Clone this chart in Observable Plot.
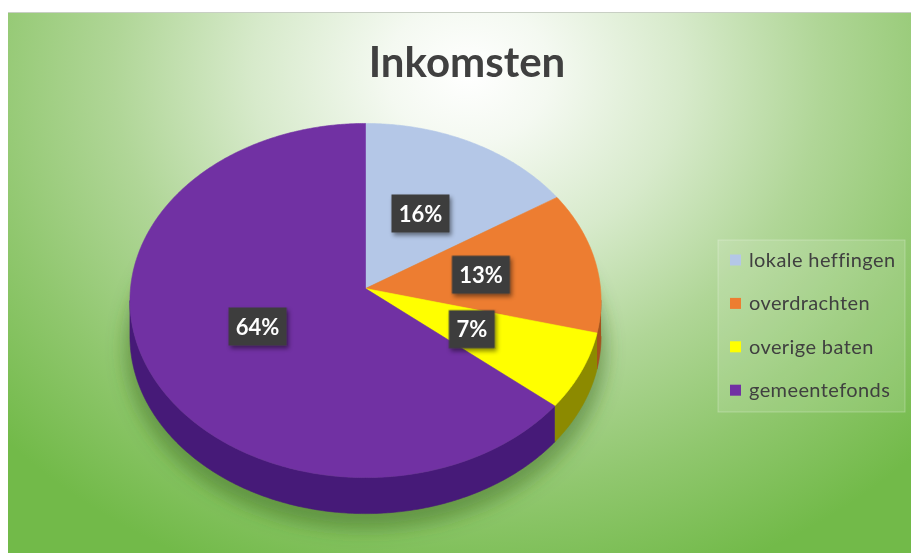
<!DOCTYPE html>
<html>
<head>
<meta charset="utf-8">
<script src="https://cdn.jsdelivr.net/npm/d3@7"></script>
<script src="https://cdn.jsdelivr.net/npm/@observablehq/plot@0.6"></script>
<style>
  html, body { margin: 0; padding: 0; background: #ffffff; }
  #wrap { position: relative; width: 911px; height: 553px; overflow: hidden; background: #ffffff; }
  #bg { position: absolute; left: 8px; top: 12px; width: 903px; height: 541px;
        border-top: 1px solid #c8cfc4;
        background: radial-gradient(ellipse 70% 100% at 51% 11%, #ffffff 0%, #f4f9f1 13%, #d7eacb 34%, #b0d697 56%, #90c76e 78%, #72ba49 100%); }
  #chart { position: absolute; left: 0; top: 0; }
</style>
</head>
<body>
<div id="wrap"><div id="bg"></div><div id="chart"></div></div>
<script>
// ---- data ----
const title = "Inkomsten";
const categories = ["lokale heffingen", "overdrachten", "overige baten", "gemeentefonds"];
const values = [16, 13, 7, 64];
const labels = ["16%", "13%", "7%", "64%"];
const topColors = ["#b4c7e7", "#ed7d31", "#ffff00", "#7131a3"];
const sideColors = ["#7d8db0", "#a4511c", "#8c8a00", "#461a78"];

// ---- layout ----
const W = 911, H = 553;
const CX = 365, CY = 288, R = 235;   // apex in pixels, radius in pixels
const T = 0.75, K = 0.068;           // tilt and perspective
const D = 36 / R;                    // thickness in radius units

function P(theta, f, h = 0) {
  const u = f * Math.sin(theta), v = -f * Math.cos(theta);
  const s = 1 / (1 - K * v);
  return {x: u * s, y: T * v * s + h};
}
function arc(a1, a2, f, h) {
  const n = Math.max(2, Math.ceil((a2 - a1) / (Math.PI / 360)));
  return d3.range(n + 1).map(i => P(a1 + (a2 - a1) * i / n, f, h));
}

const arcs = d3.pie().sort(null).value(d => d)(values);
const theta0 = Math.acos(-K), theta1 = 2 * Math.PI - theta0;

const tops = arcs.map((a, i) => [{x: 0, y: 0}, ...arc(a.startAngle, a.endAngle, 1, 0), {x: 0, y: 0}]);
const sides = arcs.map((a, i) => {
  const lo = Math.max(a.startAngle, theta0), hi = Math.min(a.endAngle, theta1);
  if (lo >= hi) return null;
  return [...arc(lo, hi, 1, 0), ...arc(lo, hi, 1, D).reverse()];
});
const shadow = arc(0, 2 * Math.PI, 1.02, D + 0.05);
const labelPts = arcs.map((a, i) => ({...P((a.startAngle + a.endAngle) / 2, 0.5, 0), label: labels[i]}));

const boxSymbol = {
  draw(context, size) {
    const hw = Math.sqrt(size / Math.PI);
    context.rect(-hw, -19, 2 * hw, 38);
  }
};

const marks = [];
marks.push(Plot.line(shadow, {x: "x", y: "y", fill: "#3d6a22", fillOpacity: 0.5, stroke: "none"}));
sides.forEach((s, i) => { if (s) marks.push(Plot.line(s, {x: "x", y: "y", fill: sideColors[i], stroke: sideColors[i], strokeWidth: 0.6})); });
tops.forEach((t, i) => marks.push(Plot.line(t, {x: "x", y: "y", fill: topColors[i], stroke: topColors[i], strokeWidth: 0.6})));
marks.push(Plot.dot(labelPts, {x: "x", y: "y", r: d => 11 + 6 * d.label.length, symbol: boxSymbol, fill: "#3c3c3c", stroke: "none"}));
marks.push(Plot.text(labelPts, {x: "x", y: "y", text: "label", fill: "white", fontSize: 22, fontWeight: "bold", fontFamily: "Lato", dy: 1}));

const plot = Plot.plot({
  width: W, height: H,
  margin: 0,
  x: {domain: [-CX / R, (W - CX) / R], range: [0, W], axis: null},
  y: {domain: [-CY / R, (H - CY) / R], range: [0, H], axis: null},
  r: {type: "identity"},
  style: {background: "transparent", overflow: "visible"},
  marks
});

const svg = d3.select(plot);
const defs = svg.insert("defs", ":first-child");
defs.append("filter").attr("id", "pieShadow").attr("x", "-20%").attr("y", "-20%").attr("width", "140%").attr("height", "140%")
  .append("feGaussianBlur").attr("stdDeviation", 9);
const ds = defs.append("filter").attr("id", "boxShadow").attr("x", "-30%").attr("y", "-30%").attr("width", "160%").attr("height", "160%");
ds.append("feDropShadow").attr("dx", 2).attr("dy", 3).attr("stdDeviation", 2).attr("flood-color", "#000").attr("flood-opacity", 0.45);
const lineGroups = plot.querySelectorAll(':scope > g[aria-label="line"]');
if (lineGroups.length) lineGroups[0].setAttribute("filter", "url(#pieShadow)");
const dotGroup = plot.querySelector(':scope > g[aria-label="dot"]');
if (dotGroup) dotGroup.setAttribute("filter", "url(#boxShadow)");

// title
svg.append("text").attr("x", 467).attr("y", 77).attr("text-anchor", "middle")
  .attr("font-family", "Lato").attr("font-weight", "bold").attr("font-size", 42)
  .attr("fill", "#404040").text(title);

// legend
const lg = svg.append("g").attr("font-family", "Lato").attr("font-size", 20).attr("letter-spacing", 0.4).attr("fill", "#404040").attr("text-anchor", "start");
lg.append("rect").attr("x", 718).attr("y", 240).attr("width", 187).attr("height", 172)
  .attr("fill", "#ffffff").attr("fill-opacity", 0.12).attr("stroke", "#ffffff").attr("stroke-opacity", 0.25);
categories.forEach((c, i) => {
  const y = 260 + i * 43.4;
  lg.append("rect").attr("x", 730).attr("y", y - 5.5).attr("width", 11).attr("height", 11).attr("fill", topColors[i]);
  lg.append("text").attr("x", 749).attr("y", y).attr("dy", "0.35em").attr("text-anchor", "start").text(c);
});

document.getElementById("chart").appendChild(plot);
</script>
</body>
</html>
